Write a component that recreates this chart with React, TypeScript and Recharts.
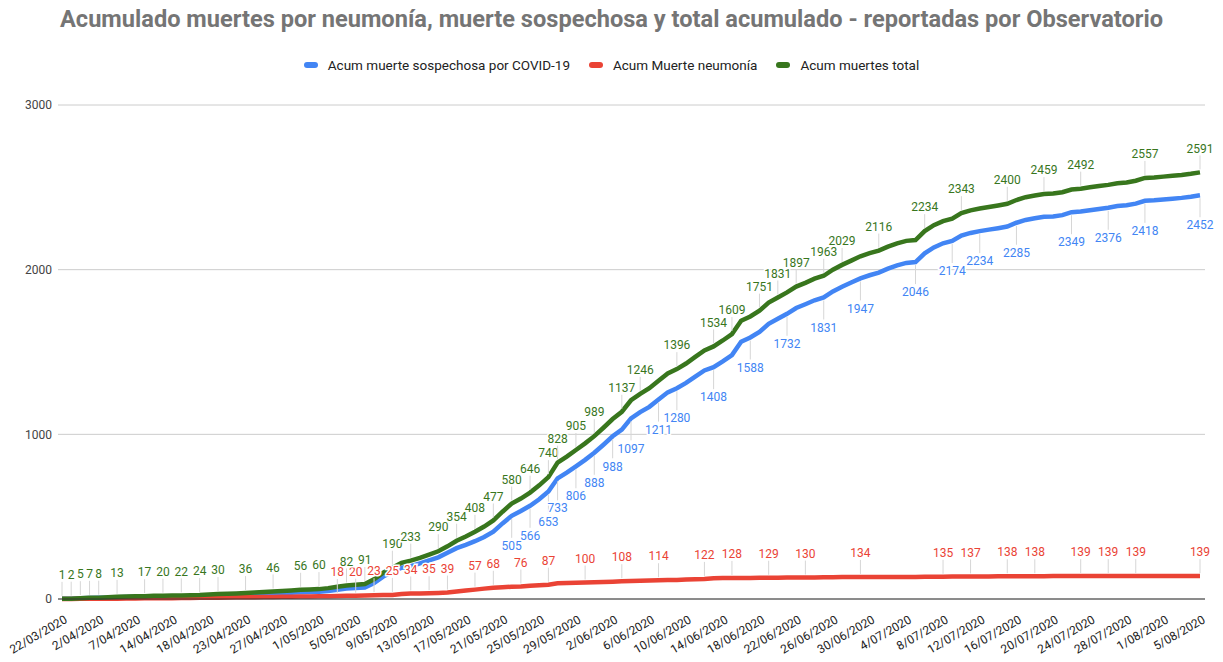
import React from "react";
import { LineChart, Line, XAxis, YAxis, CartesianGrid, Legend, LabelList } from "recharts";

// first weeks are not daily in the source sheet
const earlyDates = [
  "22/03/2020", "29/03/2020", "30/03/2020", "1/04/2020", "2/04/2020", "3/04/2020", "4/04/2020",
  "6/04/2020", "7/04/2020", "8/04/2020", "9/04/2020", "13/04/2020", "14/04/2020", "15/04/2020",
  "16/04/2020", "17/04/2020", "18/04/2020", "20/04/2020", "21/04/2020", "22/04/2020", "23/04/2020",
  "24/04/2020", "25/04/2020", "26/04/2020", "27/04/2020", "28/04/2020", "29/04/2020", "30/04/2020",
];

// daily from 1/05/2020 to 5/08/2020
const dailyDates: string[] = [];
for (let i = 0; i < 97; i++) {
  const d = new Date(Date.UTC(2020, 4, 1 + i));
  dailyDates.push(`${d.getUTCDate()}/${String(d.getUTCMonth() + 1).padStart(2, "0")}/2020`);
}
const dates = [...earlyDates, ...dailyDates];

const sospechosa = [
  1, 2, 4, 6, 7, 8, 11, 12, 13, 13, 15, 15, 16, 16, 17, 17, 19, 22, 23, 24,
  26, 28, 31, 34, 36, 38, 41, 43, 44, 49, 56, 63, 67, 69, 97, 136, 165, 190, 199, 216,
  235, 253, 281, 309, 329, 351, 377, 409, 459, 505, 534, 566, 606, 653, 733, 768, 806, 845, 888, 937,
  988, 1029, 1097, 1135, 1167, 1211, 1255, 1280, 1312, 1350, 1388, 1408, 1443, 1481, 1562, 1588, 1622, 1671, 1702, 1732,
  1767, 1790, 1814, 1831, 1868, 1896, 1922, 1947, 1966, 1982, 2006, 2026, 2041, 2046, 2099, 2135, 2160, 2174, 2207, 2223,
  2234, 2243, 2252, 2262, 2285, 2302, 2312, 2321, 2323, 2331, 2349, 2353, 2361, 2369, 2376, 2386, 2391, 2401, 2418, 2421,
  2426, 2431, 2436, 2443, 2452,
];

const neumonia = [
  0, 0, 1, 1, 1, 2, 2, 3, 3, 4, 4, 5, 5, 6, 6, 7, 8, 8, 9, 10,
  10, 11, 12, 12, 13, 14, 15, 15, 16, 17, 18, 19, 20, 22, 23, 24, 25, 30, 34, 34,
  35, 37, 39, 45, 51, 57, 63, 68, 71, 75, 76, 80, 84, 87, 95, 97, 99, 100, 101, 103,
  105, 108, 110, 111, 113, 114, 115, 116, 118, 120, 122, 126, 127, 128, 128, 128, 129, 129, 129, 130,
  130, 130, 131, 132, 132, 133, 133, 134, 134, 134, 134, 134, 134, 134, 135, 135, 135, 136, 136, 137,
  137, 137, 138, 138, 138, 138, 138, 138, 139, 139, 139, 139, 139, 139, 139, 139, 139, 139, 139, 139,
  139, 139, 139, 139, 139,
];

const total = [
  1, 2, 5, 7, 8, 10, 13, 15, 16, 17, 19, 20, 21, 22, 23, 24, 27, 30, 32, 34,
  36, 39, 43, 46, 49, 52, 56, 58, 60, 66, 74, 82, 87, 91, 120, 160, 190, 220, 233, 250,
  270, 290, 320, 354, 380, 408, 440, 477, 530, 580, 610, 646, 690, 740, 828, 865, 905, 945, 989, 1040,
  1093, 1137, 1207, 1246, 1280, 1325, 1370, 1396, 1430, 1470, 1510, 1534, 1570, 1609, 1690, 1716, 1751, 1800, 1831, 1862,
  1897, 1920, 1945, 1963, 2000, 2029, 2055, 2081, 2100, 2116, 2140, 2160, 2175, 2180, 2234, 2270, 2295, 2310, 2343, 2360,
  2371, 2380, 2390, 2400, 2423, 2440, 2450, 2459, 2462, 2470, 2487, 2492, 2500, 2508, 2515, 2525, 2530, 2540, 2557, 2560,
  2565, 2570, 2575, 2582, 2591,
];

// points that carry a data label in the reference
const sospechosaLabelIdx = [49, 51, 53, 54, 56, 58, 60, 62, 65, 67, 71, 75, 79, 83, 87, 93, 97, 100, 104, 110, 114, 118, 124];
const neumoniaLabelIdx = [30, 32, 34, 36, 38, 40, 42, 45, 47, 50, 53, 57, 61, 65, 70, 73, 77, 81, 87, 96, 99, 103, 106, 111, 114, 117, 124];
const totalLabelIdx = [
  0, 1, 2, 3, 4, 6, 9, 11, 13, 15, 17, 20, 23, 26, 28, 31, 33, 36, 38, 41, 43, 45, 47, 49, 51, 53, 54, 56, 58,
  61, 63, 67, 71, 73, 76, 78, 80, 83, 85, 89, 94, 98, 103, 107, 111, 118, 124,
];

const yTicks = [0, 1000, 2000, 3000];

const seriesNames = ["Acum muerte sospechosa por COVID-19", "Acum Muerte neumonía", "Acum muertes total"];

const BLUE = "#4285f4";
const RED = "#ea4335";
const GREEN = "#38761d";
const FONT = "Roboto, sans-serif";

const data = dates.map((date, i) => ({
  date,
  sospechosa: sospechosa[i],
  neumonia: neumonia[i],
  total: total[i],
  sospechosaLbl: sospechosaLabelIdx.includes(i) ? sospechosa[i] : null,
  neumoniaLbl: neumoniaLabelIdx.includes(i) ? neumonia[i] : null,
  totalLbl: totalLabelIdx.includes(i) ? total[i] : null,
}));

const makeLabel = (color: string, above: boolean) => (props: any) => {
  const { value } = props;
  if (value === null || value === undefined) return null;
  const x = props.x ?? props.viewBox?.x;
  const y = props.y ?? props.viewBox?.y;
  if (x == null || y == null) return null;
  const cy = above ? y - 24 : y + 30;
  const edge = above ? cy + 7 : cy - 8;
  return (
    <g>
      <line x1={x} x2={x} y1={edge} y2={above ? y - 3 : y + 3} stroke="#d6d6d6" strokeWidth={1} />
      <text
        x={x}
        y={cy}
        dy="0.35em"
        textAnchor="middle"
        fontSize={12}
        fontFamily={FONT}
        fill={color}
        stroke="#fff"
        strokeWidth={3}
        paintOrder="stroke"
      >
        {value}
      </text>
    </g>
  );
};

const DateTick = (props: any) => {
  const { x, y, payload } = props;
  const ax = x + 6;
  const ay = y + 23;
  return (
    <text
      x={ax}
      y={ay}
      transform={`rotate(-30, ${ax}, ${ay})`}
      textAnchor="end"
      fontSize={12}
      fontFamily={FONT}
      fill="#222"
    >
      {payload.value}
    </text>
  );
};

const renderLegend = (props: any) => {
  const items = (props.payload || [])
    .filter((p: any) => p.type !== "none" && seriesNames.includes(p.value))
    .sort((a: any, b: any) => seriesNames.indexOf(a.value) - seriesNames.indexOf(b.value));
  return (
    <div style={{ display: "flex", justifyContent: "center", gap: 19, fontFamily: FONT, fontSize: 13.5, color: "#222" }}>
      {items.map((it: any) => (
        <span key={it.value} style={{ display: "flex", alignItems: "center" }}>
          <span style={{ width: 14, height: 6, borderRadius: 3, background: it.color, marginRight: 10, display: "inline-block" }} />
          {it.value}
        </span>
      ))}
    </div>
  );
};

export default function App() {
  return (
    <div style={{ position: "absolute", left: 0, top: 0, width: 1223, height: 662, background: "#fff", fontFamily: FONT }}>
      <div
        style={{
          position: "absolute",
          top: 5,
          left: 0,
          width: 1223,
          textAlign: "center",
          fontSize: 23.6,
          fontWeight: "bold",
          color: "#757575",
        }}
      >
        Acumulado muertes por neumonía, muerte sospechosa y total acumulado - reportadas por Observatorio
      </div>
      <LineChart width={1223} height={662} data={data} margin={{ top: 105, right: 18, bottom: 0, left: 0 }}>
        <CartesianGrid vertical={false} stroke="#cccccc" />
        <XAxis
          dataKey="date"
          interval={3}
          tickLine={false}
          tickSize={0}
          tickMargin={0}
          axisLine={{ stroke: "#333" }}
          height={63}
          padding={{ left: 4, right: 5 }}
          tick={<DateTick />}
        />
        <YAxis
          domain={[0, 3000]}
          ticks={yTicks}
          axisLine={false}
          tickLine={false}
          tickSize={0}
          tickMargin={6}
          width={58}
          tick={{ fill: "#444", fontSize: 12, fontFamily: FONT }}
        />
        <Legend verticalAlign="middle" wrapperStyle={{ top: 57, left: 0, width: 1223 }} content={renderLegend} />
        <Line name={seriesNames[0]} dataKey="sospechosa" stroke={BLUE} strokeWidth={4.5} dot={false} activeDot={false} isAnimationActive={false} />
        <Line name={seriesNames[1]} dataKey="neumonia" stroke={RED} strokeWidth={4.5} dot={false} activeDot={false} isAnimationActive={false} />
        <Line name={seriesNames[2]} dataKey="total" stroke={GREEN} strokeWidth={4.5} dot={false} activeDot={false} isAnimationActive={false} />
        {/* label-only series so every label sits above every line */}
        <Line dataKey="sospechosa" stroke="none" dot={false} activeDot={false} legendType="none" isAnimationActive={false}>
          <LabelList dataKey="sospechosaLbl" content={makeLabel(BLUE, false)} />
        </Line>
        <Line dataKey="neumonia" stroke="none" dot={false} activeDot={false} legendType="none" isAnimationActive={false}>
          <LabelList dataKey="neumoniaLbl" content={makeLabel(RED, true)} />
        </Line>
        <Line dataKey="total" stroke="none" dot={false} activeDot={false} legendType="none" isAnimationActive={false}>
          <LabelList dataKey="totalLbl" content={makeLabel(GREEN, true)} />
        </Line>
      </LineChart>
    </div>
  );
}
